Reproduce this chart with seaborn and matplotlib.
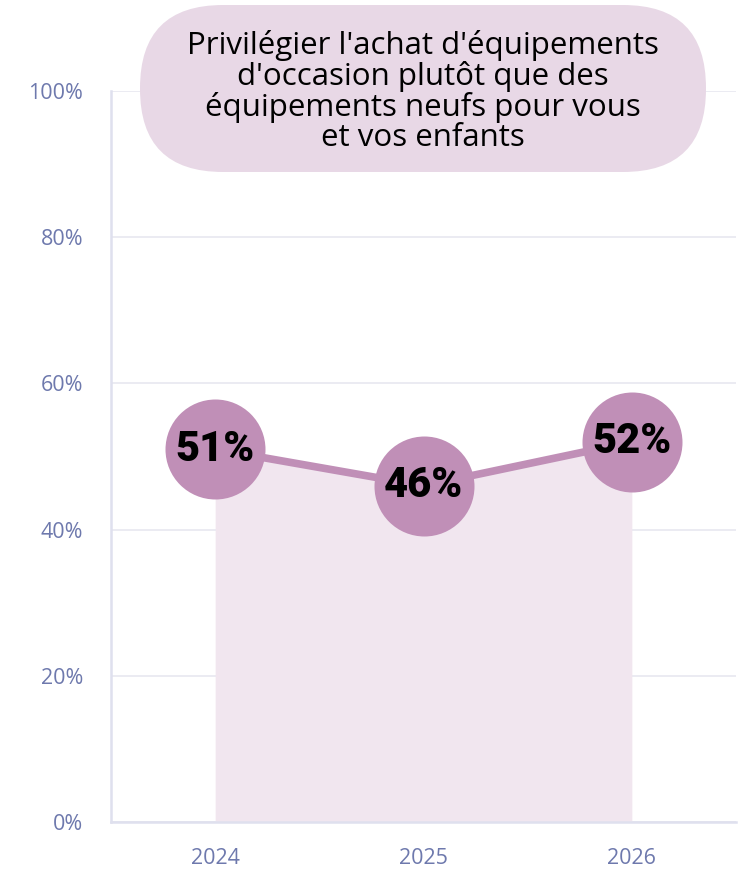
import matplotlib
matplotlib.use("Agg")
import matplotlib.pyplot as plt
from matplotlib.patches import FancyBboxPatch
import seaborn as sns
import pandas as pd
import numpy as np

years = ["2024", "2025", "2026"]
values = [51, 46, 52]
y_ticks = [0, 20, 40, 60, 80, 100]
y_tick_labels = ["0%", "20%", "40%", "60%", "80%", "100%"]
title = "Privilégier l'achat d'équipements\nd'occasion plutôt que des\néquipements neufs pour vous\net vos enfants"

df = pd.DataFrame({"year": years, "value": values})
df["pos"] = np.arange(len(years))

sns.set_theme(style="white")
plt.rcParams["font.family"] = ["Open Sans", "DejaVu Sans"]

LINE = "#c08fb7"
FILL = "#f1e6ef"
AXC = "#dfe0ee"
GRID = "#e8e8f0"
TICKC = "#6e79ad"

fig = plt.figure(figsize=(7.48, 8.71), dpi=100)
ax = fig.add_axes([111/748, 49/871, (736-111)/748, (822-91)/871])

ax.fill_between(df["pos"], 0, df["value"], color=FILL, lw=0, zorder=1)
sns.lineplot(data=df, x="pos", y="value", ax=ax, color=LINE, lw=5.5, zorder=3,
             marker="o", markersize=72, markeredgewidth=0, markerfacecolor=LINE)

for p, v in zip(df["pos"], df["value"]):
    ax.text(p, v, f"{v}%", ha="center", va="center", fontsize=30, fontweight=900,
            color="black", zorder=5, family=["Roboto", "DejaVu Sans"])

ax.set_xlim(-0.5, 2.5)
ax.set_ylim(0, 100)
ax.set_yticks(y_ticks)
ax.set_yticklabels(y_tick_labels)
ax.set_xticks(df["pos"])
ax.set_xticklabels(years)
ax.set_xticks([-0.5, 0.5, 1.5, 2.5], minor=True)
ax.tick_params(axis="x", which="major", length=0, pad=19, labelsize=15.5, labelcolor=TICKC)
ax.tick_params(axis="x", which="minor", length=7, width=1.2, color=AXC, direction="out")
ax.tick_params(axis="y", length=6, width=1.2, color=AXC, pad=14, labelsize=15.5, labelcolor=TICKC)
ax.set_xlabel("")
ax.set_ylabel("")
ax.grid(axis="y", color=GRID, lw=1.2, zorder=0)
ax.set_axisbelow(True)
for s in ["top", "right"]:
    ax.spines[s].set_visible(False)
for s in ["left", "bottom"]:
    ax.spines[s].set_color(AXC)
    ax.spines[s].set_linewidth(1.8)

box = FancyBboxPatch((1.40, 6.99), 5.66, 1.67,
                     boxstyle="round,pad=0,rounding_size=0.83",
                     transform=fig.dpi_scale_trans, facecolor="#e8d8e6",
                     edgecolor="none", zorder=10)
fig.patches.append(box)
fig.text(4.23/7.48, 7.80/8.71, title, ha="center", va="center", fontsize=22.5,
         color="black", linespacing=1.0, zorder=11)

fig.savefig("out.png", dpi=100)
